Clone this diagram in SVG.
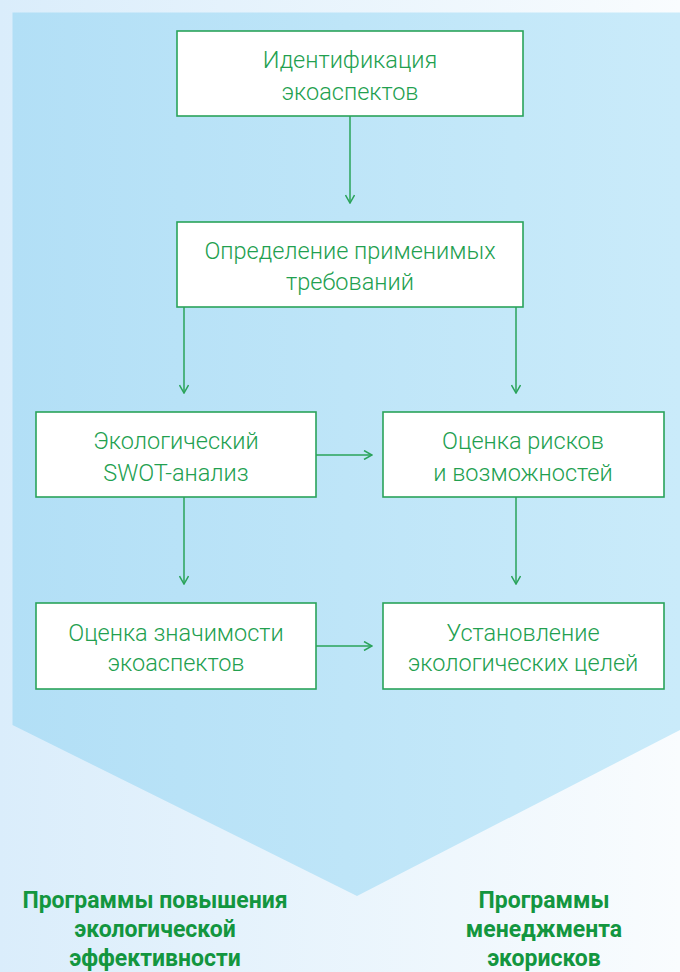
<svg xmlns="http://www.w3.org/2000/svg" width="680" height="972" viewBox="0 0 680 972">
<defs>
<linearGradient id="bg" x1="0" y1="0" x2="1" y2="0">
<stop offset="0" stop-color="#DAEDFB"/>
<stop offset="1" stop-color="#F9FCFE"/>
</linearGradient>
<linearGradient id="chev" x1="0" y1="0" x2="1" y2="0">
<stop offset="0" stop-color="#B2DFF6"/>
<stop offset="1" stop-color="#CAEBFA"/>
</linearGradient>
<marker id="ah" viewBox="0 0 10 10" refX="9" refY="5" markerWidth="10" markerHeight="10" markerUnits="userSpaceOnUse" orient="auto">
<path d="M1,0.5 L9,5 L1,9.5" fill="none" stroke="#2AA35A" stroke-width="1.5"/>
</marker>
<style>
.box{fill:#FFFFFF;stroke:#2AA35A;stroke-width:1.6}
.t{font-family:Roboto,"Open Sans","Liberation Sans",sans-serif;font-weight:300;font-size:23.5px;fill:#22A04F;text-anchor:middle}
.b{font-family:Roboto,"Liberation Sans",sans-serif;font-weight:700;font-size:23px;fill:#13963F;text-anchor:middle}
.c{fill:none;stroke:#2AA35A;stroke-width:1.5;marker-end:url(#ah)}
</style>
</defs>
<rect x="0" y="0" width="680" height="972" fill="url(#bg)"/>
<path d="M12.5,12.5 H680 V730 L357,896 L12.5,725 Z" fill="url(#chev)"/>
<g id="connectors">
<line class="c" x1="350" y1="116" x2="350" y2="203"/>
<line class="c" x1="184" y1="307" x2="184" y2="393"/>
<line class="c" x1="516" y1="307" x2="516" y2="393"/>
<line class="c" x1="316" y1="455" x2="372" y2="455"/>
<line class="c" x1="184" y1="497" x2="184" y2="584"/>
<line class="c" x1="516" y1="497" x2="516" y2="584"/>
<line class="c" x1="316" y1="646" x2="372" y2="646"/>
</g>
<g id="n1">
<rect class="box" x="177" y="31" width="346" height="85"/>
<text class="t" x="350" y="68">Идентификация</text>
<text class="t" x="350" y="100">экоаспектов</text>
</g>
<g id="n2">
<rect class="box" x="177" y="222" width="346" height="85"/>
<text class="t" x="350" y="259">Определение применимых</text>
<text class="t" x="350" y="290">требований</text>
</g>
<g id="n3">
<rect class="box" x="36" y="412" width="280" height="85"/>
<text class="t" x="176" y="449">Экологический</text>
<text class="t" x="176" y="481">SWOT-анализ</text>
</g>
<g id="n4">
<rect class="box" x="383" y="412" width="281" height="85"/>
<text class="t" x="523" y="449">Оценка рисков</text>
<text class="t" x="523" y="481">и возможностей</text>
</g>
<g id="n5">
<rect class="box" x="36" y="603" width="280" height="86"/>
<text class="t" x="176" y="641">Оценка значимости</text>
<text class="t" x="176" y="671">экоаспектов</text>
</g>
<g id="n6">
<rect class="box" x="383" y="603" width="281" height="86"/>
<text class="t" x="523" y="641">Установление</text>
<text class="t" x="523" y="671">экологических целей</text>
</g>
<g id="out1">
<text class="b" x="155" y="908">Программы повышения</text>
<text class="b" x="155" y="937">экологической</text>
<text class="b" x="155" y="966">эффективности</text>
</g>
<g id="out2">
<text class="b" x="544" y="908">Программы</text>
<text class="b" x="544" y="937">менеджмента</text>
<text class="b" x="544" y="966">экорисков</text>
</g>
</svg>
